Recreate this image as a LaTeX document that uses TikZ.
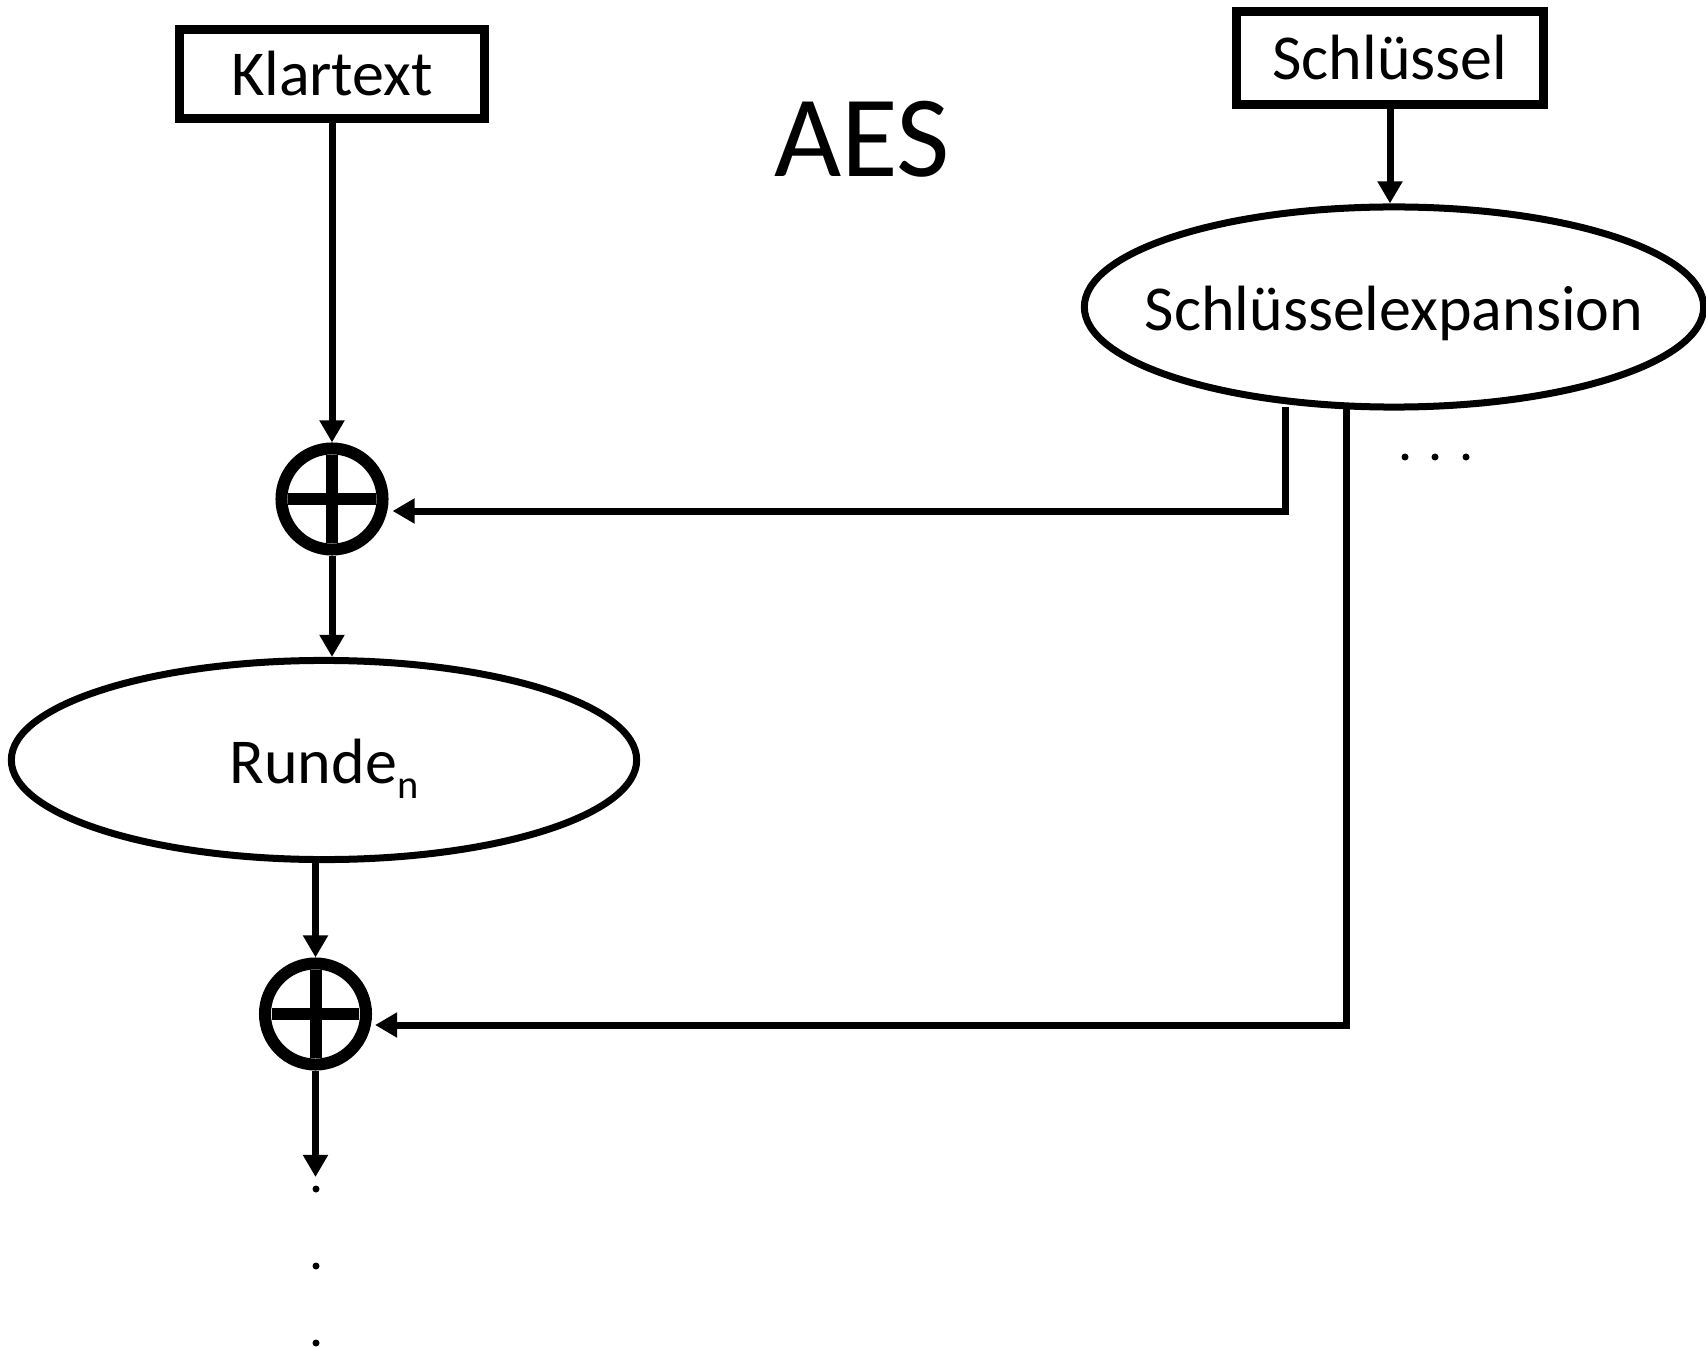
\documentclass[tikz,border=0pt]{standalone}
\usepackage{fontspec}
\setmainfont{Carlito}
\usetikzlibrary{arrows.meta,shapes.geometric}

% lowered index, set smaller than the label text
\newcommand{\idx}[1]{\raisebox{-0.15cm}{\fontsize{11.5}{13}\selectfont #1}}

\tikzset{
  lbl/.style={font=\fontsize{18.2}{22}\selectfont},
  box/.style={lbl, draw, line width=0.09cm, rectangle, inner sep=0pt},
  oval/.style={lbl, draw, line width=0.07cm, ellipse, inner sep=0pt},
  xor/.style={draw, circle, line width=0.12cm, minimum size=1.01cm, inner sep=0pt,
    path picture={
      \draw[line width=0.12cm]
        ([xshift=-0.435cm]path picture bounding box.center) -- ([xshift=0.435cm]path picture bounding box.center)
        ([yshift=-0.435cm]path picture bounding box.center) -- ([yshift=0.435cm]path picture bounding box.center);
    }},
  arr/.style={line width=0.07cm, -{Triangle[length=6.3pt,width=6.8pt]}},
  dot/.style={fill=black}
}

\begin{document}
\begin{tikzpicture}[x=0.01cm, y=-0.01cm]
  \useasboundingbox (0,0) rectangle (1706,1349);

  % title
  \node[font=\fontsize{33}{39}\selectfont] (title) at (862,139) {AES};

  % inputs
  \node[box, minimum width=3.05cm, minimum height=0.89cm] (klar) at (332,74) {Klartext};
  \node[box, minimum width=3.06cm, minimum height=0.93cm] (key) at (1390,58) {Schlüssel};

  % key schedule (zero-width label so the ellipse keeps its set size)
  \node[oval, minimum width=6.19cm, minimum height=2.0cm] (kexp) at (1394,307)
    {\makebox[0pt]{\raisebox{-0.06cm}[\height][\depth]{Schlüsselexpansion}}};

  % round structure
  \node[xor] (x1) at (332,499) {};
  \node[oval, minimum width=6.25cm, minimum height=1.99cm] (rnd) at (324,760)
    {\makebox[0pt]{\raisebox{-0.085cm}[\height][\depth]{Runde\idx{n}}}};
  \node[xor] (x2) at (315.5,1014) {};

  % free ends
  \coordinate (k1) at (1285,407);
  \coordinate (k2) at (1346,405);
  \coordinate (cont) at (315.5,1177);

  % data path
  \draw[arr] (klar) -- (x1);
  \draw[arr] (x1.south) -- (x1.south |- rnd.north);
  \draw[arr] (x2.north |- rnd.south) -- (x2.north);
  \draw[arr] (x2) -- (cont);

  % key path
  \draw[arr] (key) -- (key |- kexp.north);
  \draw[arr] (k1) |- ([shift={(0.04cm,-0.12cm)}]x1.east);
  \draw[arr] (k2) |- ([shift={(0.03cm,-0.11cm)}]x2.east);

  % continuation dots
  \fill[dot] (1405,457) circle (0.035cm);
  \fill[dot] (1435,457) circle (0.035cm);
  \fill[dot] (1466,457) circle (0.035cm);
  \fill[dot] (316,1189) circle (0.035cm);
  \fill[dot] (316,1266) circle (0.035cm);
  \fill[dot] (316,1343) circle (0.035cm);
\end{tikzpicture}
\end{document}
